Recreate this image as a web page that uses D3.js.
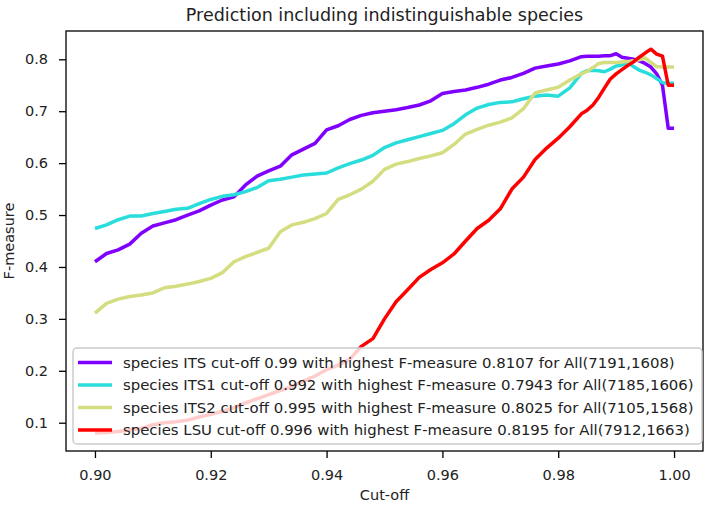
<!doctype html>
<html>
<head>
    <title>Prediction including indistinguishable species</title>
    <script src="https://d3js.org/d3.v7.min.js"></script>
    <style>
      body { margin: 0; background: white; }
      text { font-family: "DejaVu Sans", sans-serif; fill: #222; }
    </style>
</head>
<body>
    <script>
    var width = 709, height = 509;
    var margin = {left: 66, right: 6, top: 31, bottom: 58};

    // cut-off values (x), finer steps near the end
    var cutoffs = [0.900,0.902,0.904,0.906,0.908,0.910,0.912,0.914,0.916,0.918,
                   0.920,0.922,0.924,0.926,0.928,0.930,0.932,0.934,0.936,0.938,
                   0.940,0.942,0.944,0.946,0.948,0.950,0.952,0.954,0.956,0.958,
                   0.960,0.962,0.964,0.966,0.968,0.970,0.972,0.974,0.976,0.978,
                   0.980,0.982,0.984,0.985,0.986,0.987,0.988,0.989,0.990,0.991,
                   0.992,0.993,0.994,0.995,0.996,0.997,0.998,0.999,1.000];

    var its = [0.410,0.426,0.433,0.444,0.465,0.479,0.485,0.491,0.500,0.508,
               0.519,0.529,0.535,0.558,0.575,0.585,0.594,0.616,0.627,0.638,
               0.664,0.672,0.684,0.692,0.697,0.700,0.703,0.707,0.712,0.720,
               0.734,0.738,0.741,0.746,0.752,0.760,0.765,0.773,0.783,0.787,
               0.791,0.797,0.805,0.806,0.806,0.806,0.807,0.807,0.8107,0.804,
               0.802,0.800,0.797,0.792,0.785,0.772,0.750,0.667,0.667];

    var its1 = [0.474,0.481,0.491,0.498,0.498,0.503,0.507,0.511,0.513,0.522,
                0.530,0.536,0.539,0.545,0.553,0.566,0.569,0.573,0.577,0.579,
                0.581,0.591,0.599,0.606,0.615,0.630,0.639,0.645,0.651,0.657,
                0.663,0.676,0.693,0.706,0.713,0.717,0.718,0.724,0.729,0.731,
                0.729,0.745,0.773,0.778,0.779,0.778,0.776,0.781,0.787,0.789,
                0.7943,0.786,0.779,0.775,0.770,0.763,0.755,0.754,0.754];

    var its2 = [0.311,0.330,0.338,0.343,0.346,0.350,0.360,0.363,0.367,0.372,
                0.378,0.389,0.410,0.420,0.428,0.436,0.468,0.481,0.486,0.493,
                0.503,0.530,0.539,0.550,0.565,0.588,0.598,0.603,0.609,0.614,
                0.620,0.636,0.656,0.665,0.673,0.679,0.687,0.705,0.735,0.741,
                0.746,0.760,0.772,0.777,0.784,0.792,0.794,0.794,0.794,0.795,
                0.796,0.797,0.799,0.8025,0.794,0.786,0.785,0.785,0.785];

    var lsu = [0.080,0.081,0.083,0.086,0.089,0.096,0.100,0.102,0.105,0.111,
               0.116,0.122,0.129,0.138,0.146,0.154,0.162,0.170,0.180,0.190,
               0.202,0.211,0.222,0.247,0.262,0.300,0.333,0.356,0.380,0.395,
               0.408,0.425,0.450,0.474,0.490,0.512,0.550,0.573,0.607,0.629,
               0.648,0.670,0.695,0.702,0.712,0.727,0.745,0.762,0.772,0.780,
               0.788,0.795,0.804,0.812,0.8195,0.810,0.806,0.750,0.750];

    var seriesNames = ["species ITS cut-off 0.99 with highest F-measure 0.8107 for All(7191,1608)",
                       "species ITS1 cut-off 0.992 with highest F-measure 0.7943 for All(7185,1606)",
                       "species ITS2 cut-off 0.995 with highest F-measure 0.8025 for All(7105,1568)",
                       "species LSU cut-off 0.996 with highest F-measure 0.8195 for All(7912,1663)"];
    var seriesColors = ["#8000ff", "#2adddd", "#d4dd80", "#ff0000"];
    var xTicks = [0.90, 0.92, 0.94, 0.96, 0.98, 1.00];
    var yTicks = [0.1, 0.2, 0.3, 0.4, 0.5, 0.6, 0.7, 0.8];

    var allSeries = [its, its1, its2, lsu];

    var svg = d3.select("body").append("svg")
                .attr("width", width)
                .attr("height", height);

    var x = d3.scaleLinear().domain([0.895, 1.005])
              .range([margin.left, width - margin.right]);
    var y = d3.scaleLinear().domain([0.0455, 0.8545])
              .range([height - margin.bottom, margin.top]);

    // lines
    var line = d3.line()
                 .x(function(d, i){ return x(cutoffs[i]); })
                 .y(function(d){ return y(d); });

    svg.append("g").selectAll("path")
       .data(allSeries)
       .enter().append("path")
       .attr("d", line)
       .attr("fill", "none")
       .attr("stroke", function(d, i){ return seriesColors[i]; })
       .attr("stroke-width", 3.5)
       .attr("stroke-linejoin", "round");

    // axes
    var xAxis = d3.axisBottom(x).tickValues(xTicks).tickFormat(d3.format(".2f"))
                  .tickSize(7).tickPadding(12);
    var yAxis = d3.axisLeft(y).tickValues(yTicks).tickFormat(d3.format(".1f"))
                  .tickSize(7).tickPadding(11);

    var gx = svg.append("g")
                .attr("transform", "translate(0," + (height - margin.bottom) + ")")
                .call(xAxis);
    var gy = svg.append("g")
                .attr("transform", "translate(" + margin.left + ",0)")
                .call(yAxis);
    [gx, gy].forEach(function(g){
      g.select(".domain").remove();
      g.selectAll("line").attr("stroke", "#000").attr("stroke-width", 1.3);
      g.selectAll("text").style("font-size", "14.5px")
       .style("font-family", "DejaVu Sans, sans-serif").attr("fill", "#222");
    });

    // frame
    svg.append("rect")
       .attr("x", margin.left).attr("y", margin.top)
       .attr("width", width - margin.left - margin.right)
       .attr("height", height - margin.top - margin.bottom)
       .attr("fill", "none")
       .attr("stroke", "#000")
       .attr("stroke-width", 1.3);

    // title & labels
    var cx = (margin.left + width - margin.right) / 2;
    svg.append("text")
       .attr("x", cx).attr("y", 21)
       .attr("text-anchor", "middle")
       .style("font-size", "17.5px")
       .text("Prediction including indistinguishable species");

    svg.append("text")
       .attr("x", cx).attr("y", 500)
       .attr("text-anchor", "middle")
       .style("font-size", "14.5px")
       .text("Cut-off");

    svg.append("text")
       .attr("transform", "translate(14," + ((margin.top + height - margin.bottom) / 2) + ") rotate(-90)")
       .attr("text-anchor", "middle")
       .style("font-size", "14.5px")
       .text("F-measure");

    // legend
    var legend = svg.append("g");
    legend.append("rect")
          .attr("x", 73).attr("y", 348)
          .attr("width", 629).attr("height", 96)
          .attr("rx", 4)
          .attr("fill", "white").attr("fill-opacity", 0.8)
          .attr("stroke", "#cccccc").attr("stroke-width", 1.5);

    var rows = legend.selectAll("g.row")
                     .data(seriesNames)
                     .enter().append("g")
                     .attr("class", "row")
                     .attr("transform", function(d, i){ return "translate(0," + (362.5 + i * 22.5) + ")"; });
    rows.append("line")
        .attr("x1", 78).attr("x2", 112)
        .attr("stroke", function(d, i){ return seriesColors[i]; })
        .attr("stroke-width", 3.5);
    rows.append("text")
        .attr("x", 123).attr("y", 0)
        .attr("dy", "0.35em")
        .style("font-size", "14.9px")
        .text(function(d){ return d; });
    </script>
</body>
</html>
